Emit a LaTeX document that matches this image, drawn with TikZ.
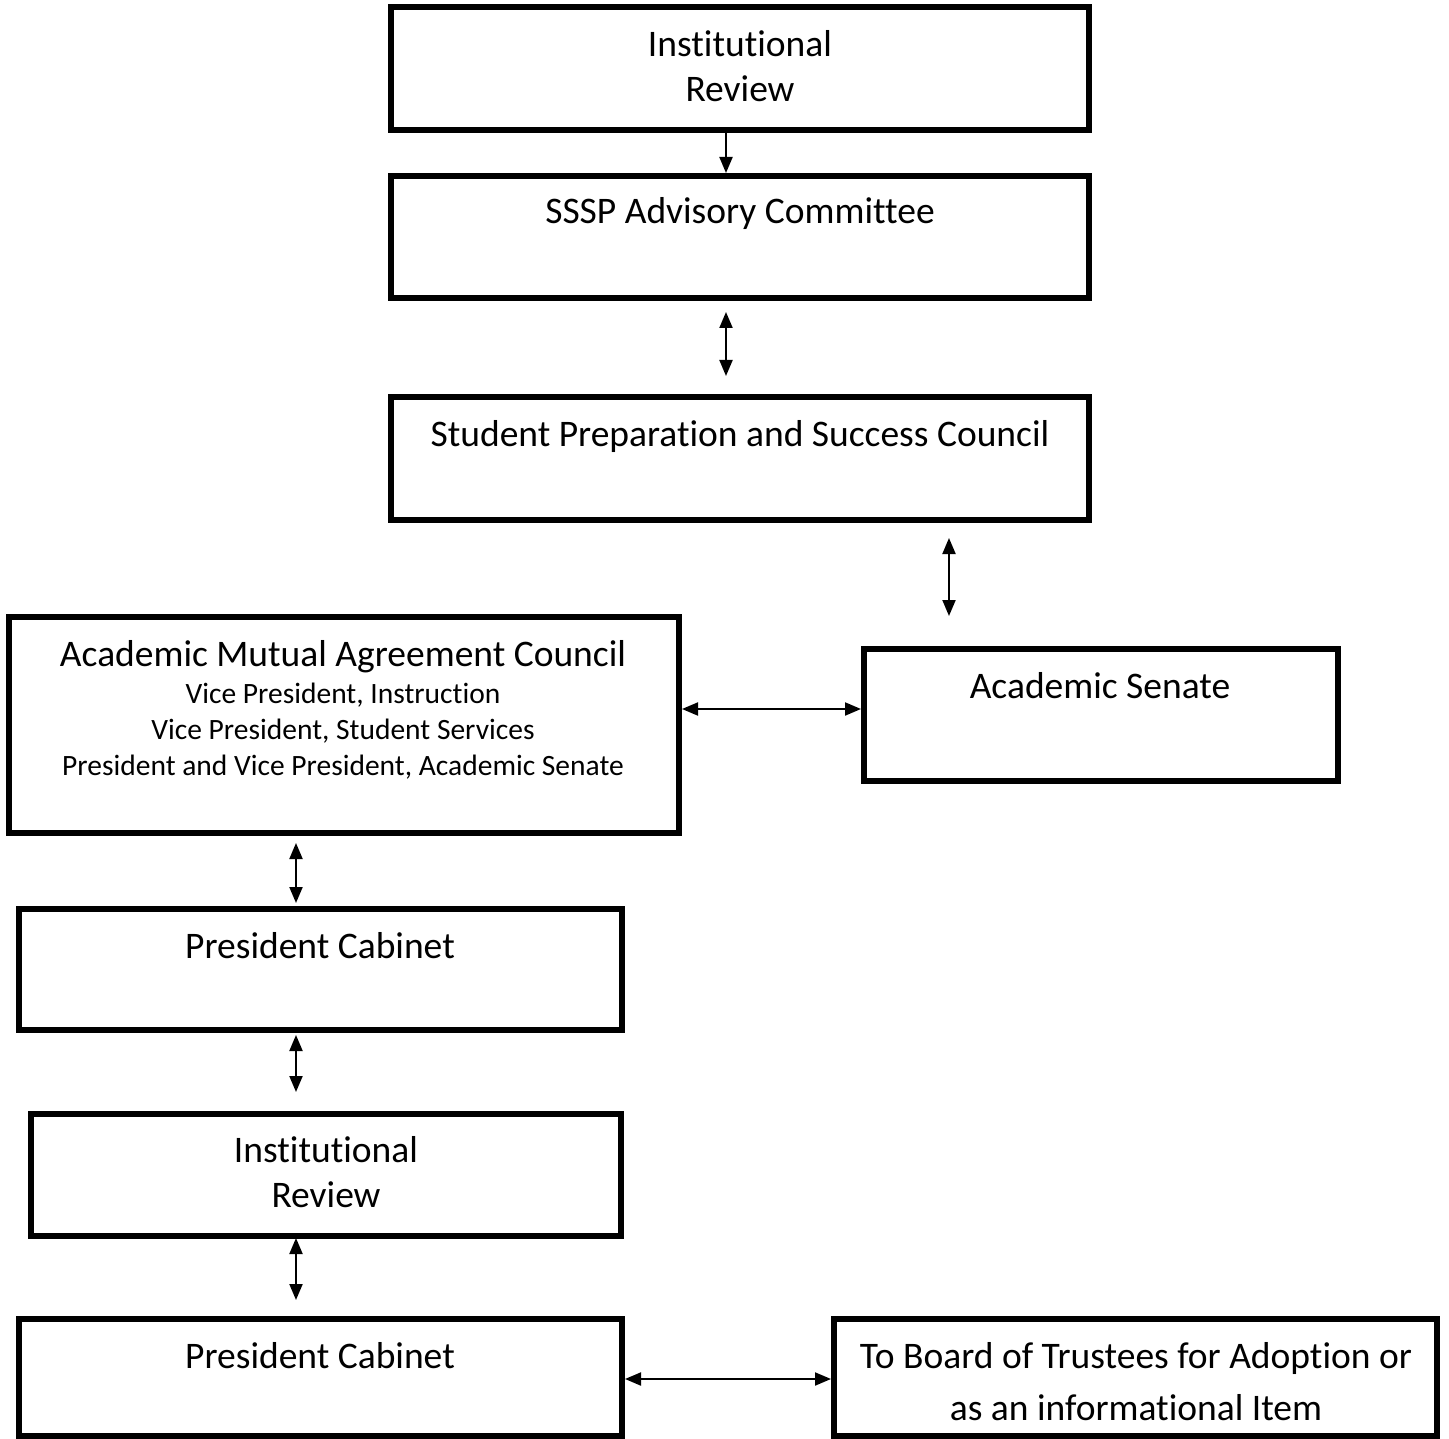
\documentclass[tikz,border=0pt]{standalone}
\usepackage{fontspec}
\setmainfont{Carlito}[Ligatures=NoCommon]
\usetikzlibrary{arrows.meta}
\begin{document}
\begin{tikzpicture}[x=1pt,y=-1pt,
  box/.style={draw=black, line width=6pt, fill=white, inner sep=0pt, outer sep=0pt},
  big/.style={inner sep=0pt, anchor=base, font=\fontsize{37.5}{45}\selectfont},
  small/.style={inner sep=0pt, anchor=base, font=\fontsize{29.5}{36}\selectfont},
  link/.style={draw=black, line width=2pt, -{Triangle[length=16pt,width=13pt]}},
  dbl/.style={draw=black, line width=2pt, {Triangle[length=16pt,width=13pt]}-{Triangle[length=16pt,width=13pt]}}
]
\useasboundingbox (0,0) rectangle (1449,1439);
% boxes
\node[box, minimum width=698pt, minimum height=123pt] (b1) at (740,68.5) {};
\node[box, minimum width=698pt, minimum height=122pt] (b2) at (740,237) {};
\node[box, minimum width=698pt, minimum height=123pt] (b3) at (740,458.5) {};
\node[box, minimum width=670pt, minimum height=216pt] (b4) at (344,725) {};
\node[box, minimum width=474pt, minimum height=132pt] (b5) at (1101,715) {};
\node[box, minimum width=603pt, minimum height=121pt] (b6) at (320.5,969.5) {};
\node[box, minimum width=590pt, minimum height=122pt] (b7) at (326,1175) {};
\node[box, minimum width=603pt, minimum height=117pt] (b8) at (320.5,1377.5) {};
\node[box, minimum width=603pt, minimum height=117pt] (b9) at (1135.5,1377.5) {};
% texts
\node[big] (t1a) at (740,57) {Institutional};
\node[big] (t1b) at (740,102) {Review};
\node[big] (t2) at (740,224) {SSSP Advisory Committee};
\node[big] (t3) at (740,446) {Student Preparation and Success Council};
\node[big] (t4) at (343,666) {Academic Mutual Agreement Council};
\node[small] (t4a) at (343,703) {Vice President, Instruction};
\node[small] (t4b) at (343,739) {Vice President, Student Services};
\node[small] (t4c) at (343,775) {President and Vice President, Academic Senate};
\node[big] (t5) at (1100,698) {Academic Senate};
\node[big] (t6) at (320,958) {President Cabinet};
\node[big] (t7a) at (326,1162) {Institutional};
\node[big] (t7b) at (326,1207) {Review};
\node[big] (t8) at (320,1368) {President Cabinet};
\node[big] (t9a) at (1136,1368) {To Board of Trustees for Adoption or};
\node[big] (t9b) at (1136,1420) {as an informational Item};
% connector guides
\coordinate (ax1) at (726,0);
\coordinate (ax3) at (949,0);
\coordinate (ax5) at (296,0);
\coordinate (ay4) at (0,709);
\coordinate (ay8) at (0,1379);
% connectors
\draw[link, shorten <=3pt, shorten >=3pt] (b1.south -| ax1) -- (b2.north -| ax1);
\draw[dbl, shorten <=14pt, shorten >=21pt] (b2.south -| ax1) -- (b3.north -| ax1);
\draw[dbl, shorten <=18pt, shorten >=33pt] (b3.south -| ax3) -- (b5.north -| ax3);
\draw[dbl, shorten <=3pt, shorten >=3pt] (b4.east |- ay4) -- (b5.west |- ay4);
\draw[dbl, shorten <=10pt, shorten >=6pt] (b4.south -| ax5) -- (b6.north -| ax5);
\draw[dbl, shorten <=5pt, shorten >=22pt] (b6.south -| ax5) -- (b7.north -| ax5);
\draw[dbl, shorten <=2pt, shorten >=19pt] (b7.south -| ax5) -- (b8.north -| ax5);
\draw[dbl, shorten <=3pt, shorten >=3pt] (b8.east |- ay8) -- (b9.west |- ay8);
\end{tikzpicture}
\end{document}
